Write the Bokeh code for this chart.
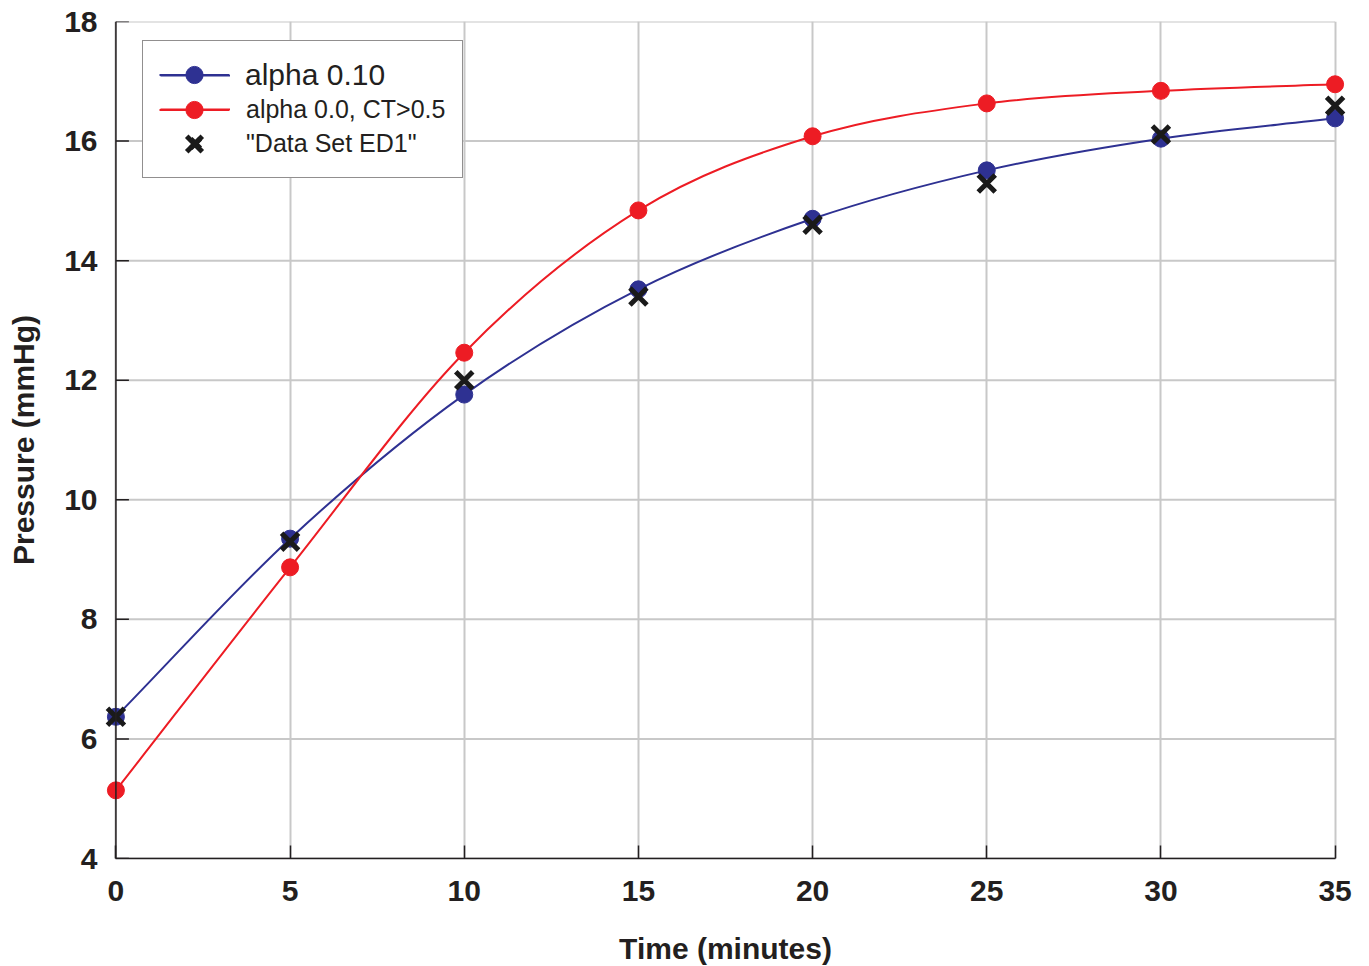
import numpy as np
from bokeh.plotting import figure
from bokeh.models import Range1d, Legend, LegendItem, FixedTicker, Span
from bokeh.embed import file_html
from bokeh.resources import INLINE

time_min = [0, 5, 10, 15, 20, 25, 30, 35]
alpha_010 = [6.37, 9.35, 11.76, 13.52, 14.70, 15.51, 16.04, 16.38]
alpha_00_ct = [5.14, 8.87, 12.46, 14.84, 16.08, 16.63, 16.84, 16.95]
data_ed1 = [6.37, 9.30, 12.00, 13.40, 14.60, 15.29, 16.11, 16.59]

x_ticks = [0, 5, 10, 15, 20, 25, 30, 35]
y_ticks = [4, 6, 8, 10, 12, 14, 16, 18]

labels = ["alpha 0.10", "alpha 0.0, CT>0.5", "\"Data Set ED1\""]

BLUE = "#2e3192"
RED = "#ed1c24"
INK = "#231f20"
GRID = "#c8c8c8"
FONT = "Liberation Sans"
PAD = 0.5  # keeps edge markers from being clipped by the frame


def smooth_segments(xs, ys):
    """Cubic Bezier control points (Catmull-Rom style) through the given points."""
    x = np.asarray(xs, float)
    y = np.asarray(ys, float)
    n = len(x)
    mx = np.empty(n); my = np.empty(n)
    mx[1:-1] = (x[2:] - x[:-2]) / 2; my[1:-1] = (y[2:] - y[:-2]) / 2
    mx[0] = x[1] - x[0]; my[0] = y[1] - y[0]
    mx[-1] = x[-1] - x[-2]; my[-1] = y[-1] - y[-2]
    return dict(x0=x[:-1], y0=y[:-1], x1=x[1:], y1=y[1:],
                cx0=x[:-1] + mx[:-1] / 3, cy0=y[:-1] + my[:-1] / 3,
                cx1=x[1:] - mx[1:] / 3, cy1=y[1:] - my[1:] / 3)


p = figure(frame_width=1254, frame_height=837,
           x_range=Range1d(x_ticks[0] - PAD, x_ticks[-1] + PAD),
           y_range=Range1d(y_ticks[0], y_ticks[-1]),
           output_backend="svg", toolbar_location=None,
           min_border_left=98, min_border_right=17, min_border_top=21, min_border_bottom=108)
p.outline_line_color = None
p.background_fill_color = "white"
p.border_fill_color = "white"

for ax in (p.xaxis[0], p.yaxis[0]):
    ax.axis_line_color = INK
    ax.axis_line_width = 1.5
    ax.major_tick_in = 13
    ax.major_tick_out = 0
    ax.major_tick_line_color = INK
    ax.major_tick_line_width = 1.5
    ax.minor_tick_line_color = None
    ax.major_label_text_font = FONT
    ax.major_label_text_font_style = "bold"
    ax.major_label_text_font_size = "30px"
    ax.major_label_text_color = INK
    ax.axis_label_text_font = FONT
    ax.axis_label_text_font_style = "bold"
    ax.axis_label_text_font_size = "30px"
    ax.axis_label_text_color = INK

p.xaxis.ticker = FixedTicker(ticks=x_ticks)
p.yaxis.ticker = FixedTicker(ticks=y_ticks)
p.xaxis.bounds = (x_ticks[0], x_ticks[-1])
p.xaxis.axis_label = "Time (minutes)"
p.yaxis.axis_label = "Pressure (mmHg)"
p.xaxis.major_label_standoff = 22
p.yaxis.major_label_standoff = 1
p.xaxis.axis_label_standoff = 28
p.yaxis.axis_label_standoff = 21
# the y axis frame edge sits left of x=0; its line and ticks are drawn at x=0 below
p.yaxis.axis_line_color = None
p.yaxis.major_tick_line_color = None

p.xgrid.grid_line_color = GRID
p.xgrid.grid_line_width = 2
p.ygrid.visible = False
# horizontal grid lines spanning only the data extent
p.segment(x0=[x_ticks[0]] * len(y_ticks), x1=[x_ticks[-1]] * len(y_ticks),
          y0=y_ticks, y1=y_ticks, line_color=GRID, line_width=2, level="underlay")
# y axis line and inward ticks at x = 0
p.add_layout(Span(location=x_ticks[0], dimension="height", line_color=INK, line_width=1.5))
p.ray(x=[x_ticks[0]] * len(y_ticks), y=y_ticks, length=13, length_units="screen",
      angle=0, line_color=INK, line_width=1.5)

bl = p.bezier(line_color=BLUE, line_width=2, **smooth_segments(time_min, alpha_010))
bc = p.scatter(time_min, alpha_010, size=17, fill_color=BLUE, line_color=BLUE, marker="circle")
rl = p.bezier(line_color=RED, line_width=2, **smooth_segments(time_min, alpha_00_ct))
rc = p.scatter(time_min, alpha_00_ct, size=17, fill_color=RED, line_color=RED, marker="circle")
xs = p.scatter(time_min, data_ed1, size=24, marker="x", line_color="#1a1a1a", line_width=5)


def style_legend(lg, font_size, padding, glyph_h, border, bg_alpha):
    lg.margin = 0
    lg.padding = padding
    lg.spacing = 0
    lg.glyph_width = 70
    lg.glyph_height = glyph_h
    lg.label_standoff = 16
    lg.label_text_font = FONT
    lg.label_text_font_size = font_size
    lg.label_text_color = INK
    lg.border_line_color = INK if border else None
    lg.border_line_width = 1.5
    lg.background_fill_color = "white"
    lg.background_fill_alpha = bg_alpha


# main legend box (rows two and three carry their labels; row one's label is drawn larger below)
legend = Legend(items=[
    LegendItem(label=" ", renderers=[bl, bc]),
    LegendItem(label=labels[1], renderers=[rl, rc]),
    LegendItem(label=labels[2], renderers=[xs]),
], location=(44, 680))
style_legend(legend, "25px", 17, 34, True, 1)
p.add_layout(legend)

# first row with the larger label and marker of the original
leg_a = Legend(items=[LegendItem(label=labels[0], renderers=[bl, bc])], location=(61, 762))
style_legend(leg_a, "30px", 0, 43, False, 0)
p.add_layout(leg_a)

# larger legend markers for rows two and three
leg_d = Legend(items=[LegendItem(label=" ", renderers=[rl, rc])], location=(61, 727))
style_legend(leg_d, "25px", 0, 43, False, 0)
p.add_layout(leg_d)

leg_c = Legend(items=[LegendItem(label=" ", renderers=[xs])], location=(61, 687))
style_legend(leg_c, "25px", 0, 55, False, 0)
p.add_layout(leg_c)

open("out.html", "w").write(file_html(p, INLINE))
